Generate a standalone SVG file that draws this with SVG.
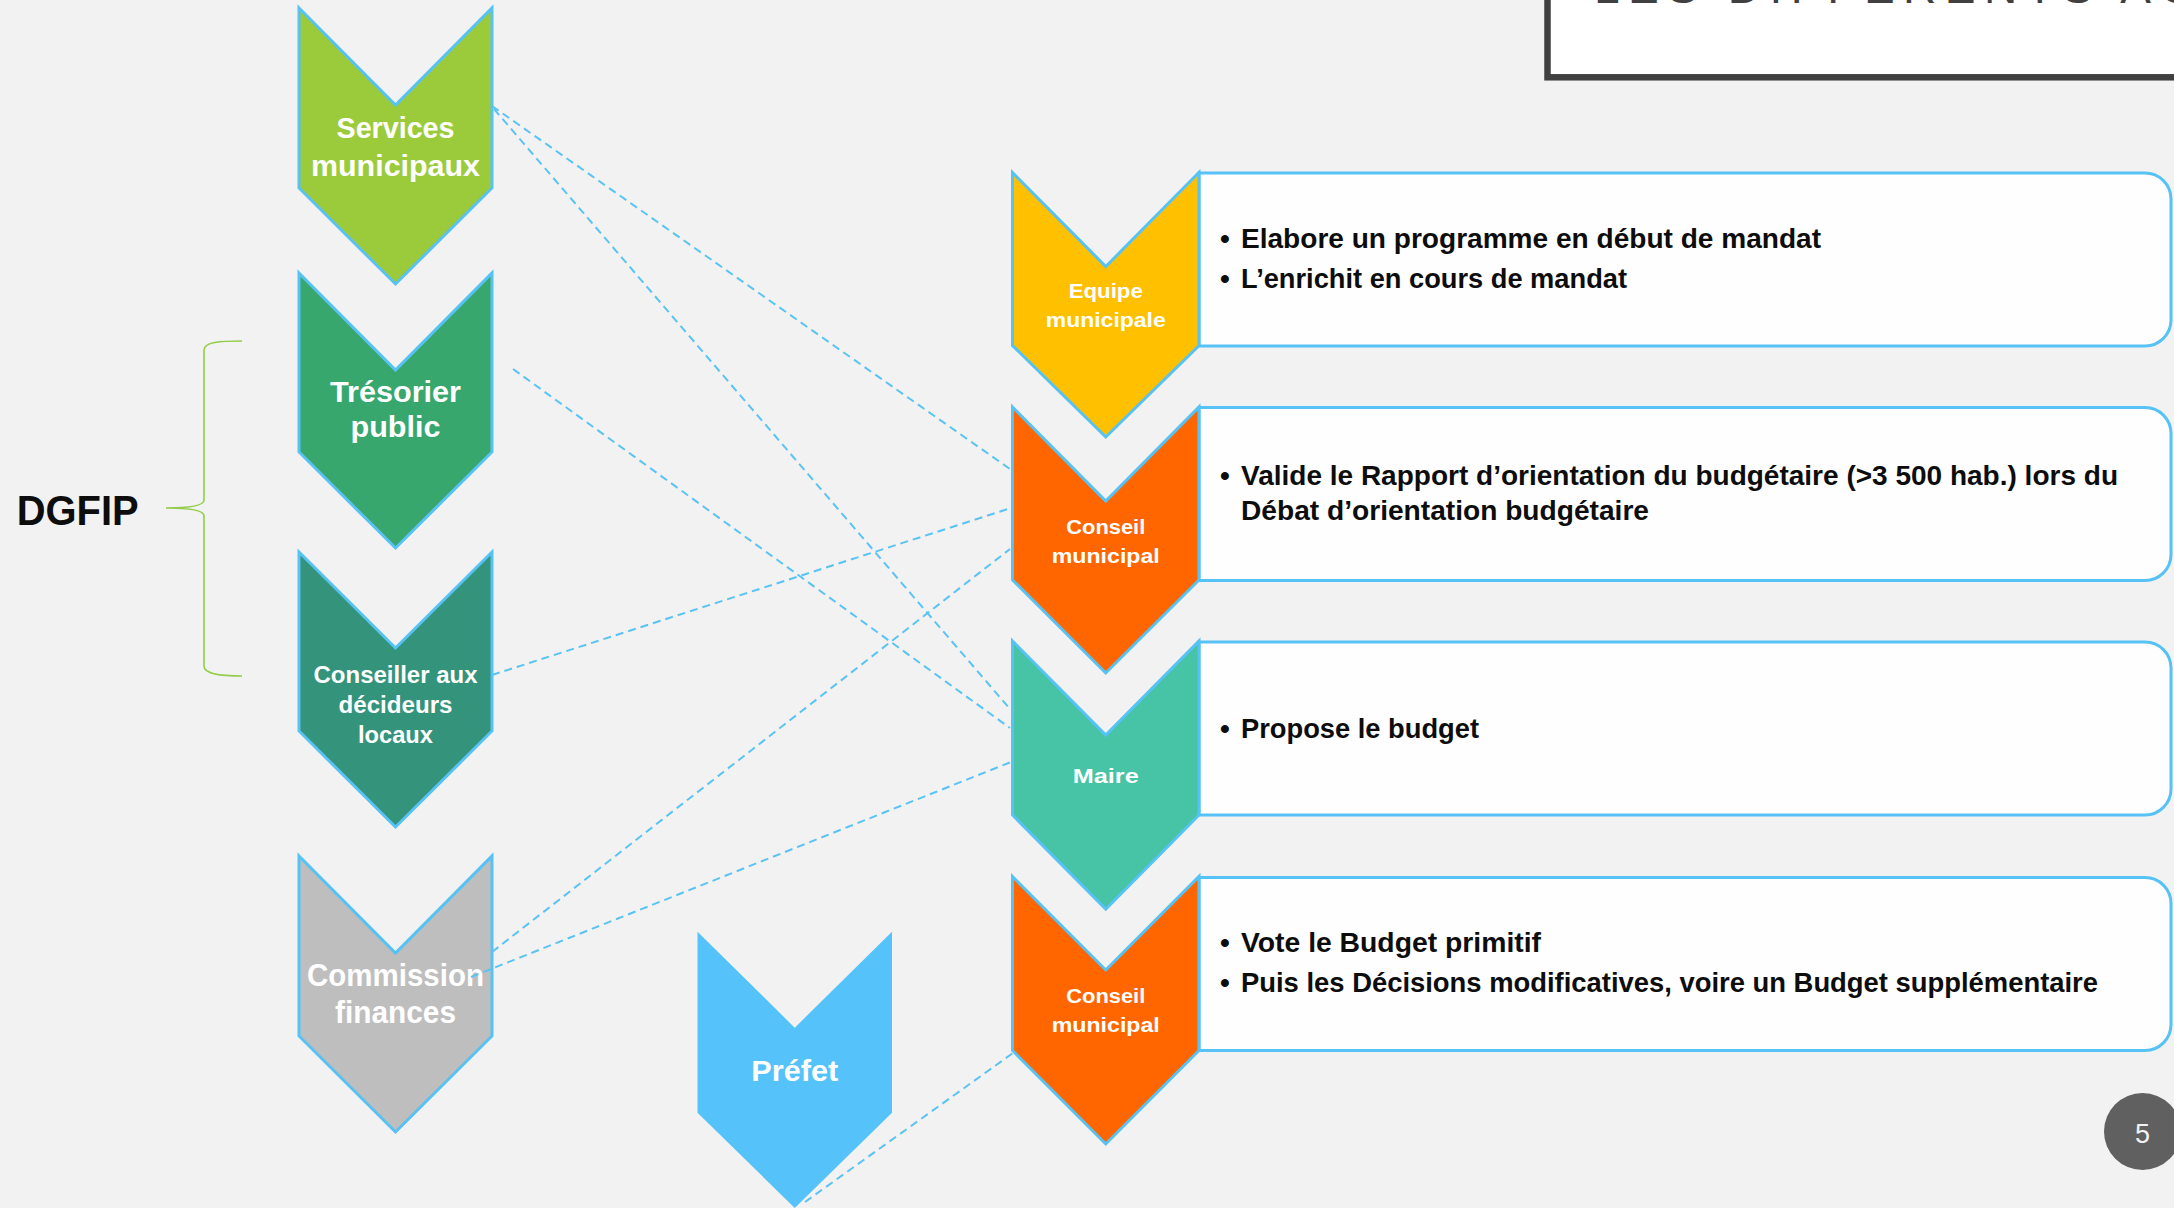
<svg xmlns="http://www.w3.org/2000/svg" width="2174" height="1208" viewBox="0 0 2174 1208">
<style>
.chev{stroke:#57C2F4;stroke-width:3;stroke-linejoin:miter}
.box{fill:#FEFEFE;stroke:#56C2F5;stroke-width:3}
.lbl{font-family:"Liberation Sans",Arial,sans-serif;font-weight:bold;fill:#FFFFFF;text-anchor:middle}
.body{font-family:"Liberation Sans",Arial,sans-serif;font-weight:bold;font-size:28px;fill:#0D0D0D}
.conn{fill:none;stroke:#5BC3F3;stroke-width:2;stroke-dasharray:8 5}
</style>
<rect x="0" y="0" width="2174" height="1208" fill="#F2F2F2"/>

<g id="title">
<rect x="1547.5" y="-20" width="700" height="97.3" fill="#FFFFFF" stroke="#404040" stroke-width="6.5"/>
<text x="1594" y="3" font-family="Liberation Sans,Arial,sans-serif" font-size="46" letter-spacing="8.5" fill="#404040">LES DIFFÉRENTS ACTEURS</text>
</g>

<g id="dgfip">
<text x="16.7" y="525" font-family="Liberation Sans,Arial,sans-serif" font-weight="bold" font-size="42" fill="#0D0D0D" textLength="122" lengthAdjust="spacingAndGlyphs">DGFIP</text>
<path d="M242,341 C220,341 204,342 204,350 L204,500 C204,506 190,508 166,508 C190,508 204,510 204,516 L204,666 C204,674 220,676 242,676" fill="none" stroke="#92CC4A" stroke-width="1.6"/>
</g>

<g id="services-municipaux">
<polygon class="chev" fill="#9BCB3B" points="299,8 395.5,105 492,8 492,188 395.5,284 299,188"/>
<text class="lbl" font-size="29" x="395.5" y="137.7" textLength="118" lengthAdjust="spacingAndGlyphs">Services</text>
<text class="lbl" font-size="29" x="395.5" y="175.7" textLength="169" lengthAdjust="spacingAndGlyphs">municipaux</text>
</g>

<g id="tresorier-public">
<polygon class="chev" fill="#38A76E" points="299,273 395.5,370 492,273 492,452 395.5,548 299,452"/>
<text class="lbl" font-size="29" x="395.5" y="402" textLength="131" lengthAdjust="spacingAndGlyphs">Trésorier</text>
<text class="lbl" font-size="29" x="395.5" y="437" textLength="90" lengthAdjust="spacingAndGlyphs">public</text>
</g>

<g id="conseiller-decideurs">
<polygon class="chev" fill="#33937B" points="299,552 395.5,648 492,552 492,731 395.5,827 299,731"/>
<text class="lbl" font-size="24" x="395.5" y="682.7" textLength="164" lengthAdjust="spacingAndGlyphs">Conseiller aux</text>
<text class="lbl" font-size="24" x="395.5" y="712.7" textLength="114" lengthAdjust="spacingAndGlyphs">décideurs</text>
<text class="lbl" font-size="24" x="395.5" y="743" textLength="75" lengthAdjust="spacingAndGlyphs">locaux</text>
</g>

<g id="commission-finances">
<polygon class="chev" fill="#BEBEBE" points="299,856 395.5,953 492,856 492,1036 395.5,1132 299,1036"/>
<text class="lbl" font-size="31" x="395.5" y="985.8" textLength="177" lengthAdjust="spacingAndGlyphs">Commission</text>
<text class="lbl" font-size="31" x="395.5" y="1022.6" textLength="121" lengthAdjust="spacingAndGlyphs">finances</text>
</g>

<g id="prefet">
<polygon fill="#55C3F9" points="697.5,931.7 794.75,1027.7 892,931.7 892,1112.7 794.75,1208 697.5,1112.7"/>
<text class="lbl" font-size="29" x="794.75" y="1081" textLength="87" lengthAdjust="spacingAndGlyphs">Préfet</text>
</g>

<g id="equipe-municipale">
<path class="box" d="M1199,173 H2145 A26,26 0 0 1 2171,199 V320 A26,26 0 0 1 2145,346 H1199 Z"/>
<polygon class="chev" fill="#FFC000" points="1012.5,172.5 1105.75,266.5 1199,172.5 1199,345.5 1105.75,437 1012.5,345.5"/>
<text class="lbl" font-size="20" x="1105.75" y="298" textLength="74" lengthAdjust="spacingAndGlyphs">Equipe</text>
<text class="lbl" font-size="20" x="1105.75" y="326.7" textLength="120" lengthAdjust="spacingAndGlyphs">municipale</text>
<text class="body" x="1220" y="248">•</text>
<text class="body" x="1241" y="248" textLength="580" lengthAdjust="spacingAndGlyphs">Elabore un programme en début de mandat</text>
<text class="body" x="1220" y="288">•</text>
<text class="body" x="1241" y="288" textLength="386" lengthAdjust="spacingAndGlyphs">L’enrichit en cours de mandat</text>
</g>

<g id="conseil-municipal-1">
<path class="box" d="M1199,407.5 H2145 A26,26 0 0 1 2171,433.5 V554.5 A26,26 0 0 1 2145,580.5 H1199 Z"/>
<polygon class="chev" fill="#FF6600" points="1012.5,407 1105.75,501 1199,407 1199,580 1105.75,673 1012.5,580"/>
<text class="lbl" font-size="20" x="1105.75" y="534" textLength="79" lengthAdjust="spacingAndGlyphs">Conseil</text>
<text class="lbl" font-size="20" x="1105.75" y="562.6" textLength="108" lengthAdjust="spacingAndGlyphs">municipal</text>
<text class="body" x="1220" y="485">•</text>
<text class="body" x="1241" y="485" textLength="877" lengthAdjust="spacingAndGlyphs">Valide le Rapport d’orientation du budgétaire (&gt;3 500 hab.) lors du</text>
<text class="body" x="1241" y="520" textLength="408" lengthAdjust="spacingAndGlyphs">Débat d’orientation budgétaire</text>
</g>

<g id="maire">
<path class="box" d="M1199,642 H2145 A26,26 0 0 1 2171,668 V789 A26,26 0 0 1 2145,815 H1199 Z"/>
<polygon class="chev" fill="#47C3A5" points="1012.5,641 1105.75,735 1199,641 1199,815 1105.75,909 1012.5,815"/>
<text class="lbl" font-size="20" x="1105.75" y="783" textLength="66" lengthAdjust="spacingAndGlyphs">Maire</text>
<text class="body" x="1220" y="737.6">•</text>
<text class="body" x="1241" y="737.6" textLength="238" lengthAdjust="spacingAndGlyphs">Propose le budget</text>
</g>

<g id="conseil-municipal-2">
<path class="box" d="M1199,877.5 H2145 A26,26 0 0 1 2171,903.5 V1024.5 A26,26 0 0 1 2145,1050.5 H1199 Z"/>
<polygon class="chev" fill="#FF6600" points="1012.5,876.5 1105.75,970 1199,876.5 1199,1050.5 1105.75,1144 1012.5,1050.5"/>
<text class="lbl" font-size="20" x="1105.75" y="1003.3" textLength="79" lengthAdjust="spacingAndGlyphs">Conseil</text>
<text class="lbl" font-size="20" x="1105.75" y="1032.3" textLength="108" lengthAdjust="spacingAndGlyphs">municipal</text>
<text class="body" x="1220" y="952">•</text>
<text class="body" x="1241" y="952" textLength="300" lengthAdjust="spacingAndGlyphs">Vote le Budget primitif</text>
<text class="body" x="1220" y="992">•</text>
<text class="body" x="1241" y="992" textLength="857" lengthAdjust="spacingAndGlyphs">Puis les Décisions modificatives, voire un Budget supplémentaire</text>
</g>

<g id="connectors">
<line class="conn" x1="492" y1="106" x2="1010" y2="469"/>
<line class="conn" x1="494" y1="109" x2="1010" y2="709"/>
<line class="conn" x1="513" y1="369" x2="1010" y2="728"/>
<line class="conn" x1="492" y1="675" x2="1008" y2="509"/>
<line class="conn" x1="492" y1="952" x2="1010" y2="549"/>
<line class="conn" x1="471" y1="977" x2="1011" y2="762"/>
<line class="conn" x1="805" y1="1202" x2="1013" y2="1053"/>
</g>

<g id="page-number">
<circle cx="2142.5" cy="1131.5" r="38.5" fill="#606060"/>
<text x="2142.5" y="1142.7" font-family="Liberation Sans,Arial,sans-serif" font-size="27" fill="#F2F2F2" text-anchor="middle">5</text>
</g>
</svg>
